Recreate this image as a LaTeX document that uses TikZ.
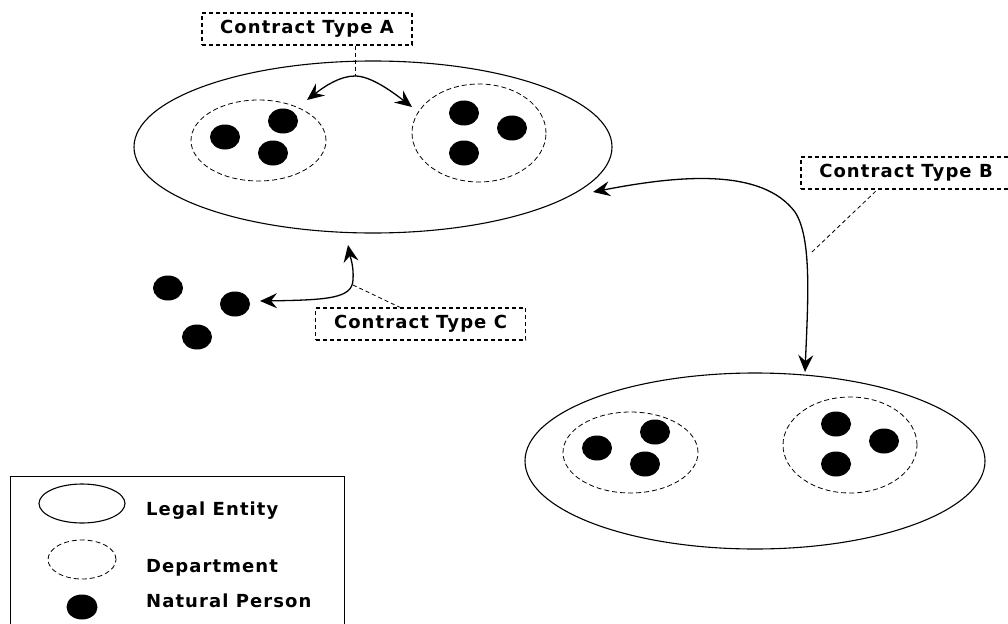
\documentclass[tikz,border=0pt]{standalone}
\usepackage{fontspec}
\setmainfont{DejaVu Sans}
\newfontfamily\lblfont[LetterSpace=6]{DejaVu Sans}
\usetikzlibrary{shapes.geometric,arrows.meta,calc}
\begin{document}
\begin{tikzpicture}[x=1pt,y=-1pt,
  entity/.style={draw, ellipse, line width=1.1pt, inner sep=0pt},
  dept/.style={draw, ellipse, line width=0.8pt, dash pattern=on 5pt off 3pt, inner sep=0pt},
  person/.style={ellipse, fill=black, minimum width=30pt, minimum height=25pt, inner sep=0pt},
  ctbox/.style={draw, line width=1.4pt, dash pattern=on 4pt off 3pt, minimum width=210pt, minimum height=32pt, inner sep=0pt, font=\lblfont\bfseries\fontsize{18}{21}\selectfont},
  legtext/.style={anchor=base west, inner sep=0pt, font=\lblfont\bfseries\fontsize{18}{21}\selectfont},
  conn/.style={line width=1.3pt, {Stealth[length=17pt,width=15pt,inset=6pt]}-{Stealth[length=17pt,width=15pt,inset=6pt]}},
  leader/.style={line width=0.8pt, dash pattern=on 4pt off 3pt}]
\useasboundingbox (0,0) rectangle (1008,623);
\clip (0,0) rectangle (1008,623);

% top legal entity
\node[entity, minimum width=478pt, minimum height=172pt] (E1) at (373,147) {};
\node[dept, minimum width=135pt, minimum height=81pt] (D1) at (258.5,140.5) {};
\node[dept, minimum width=134pt, minimum height=98pt] (D2) at (479,133) {};
\node[person] (p1) at (225,137) {};
\node[person] (p2) at (283,121) {};
\node[person] (p3) at (273,153) {};
\node[person] (p4) at (464,113) {};
\node[person] (p5) at (512,128) {};
\node[person] (p6) at (464,153) {};

% bottom legal entity
\node[entity, minimum width=460pt, minimum height=176pt] (E2) at (755,461) {};
\node[dept, minimum width=135pt, minimum height=81pt] (D3) at (630.5,452.5) {};
\node[dept, minimum width=134pt, minimum height=96pt] (D4) at (850,445) {};
\node[person] (p7) at (597,448) {};
\node[person] (p8) at (655,432) {};
\node[person] (p9) at (645,464) {};
\node[person] (p10) at (836,424) {};
\node[person] (p11) at (884,441) {};
\node[person] (p12) at (836,464) {};

% free persons
\node[person] (p13) at (168,288) {};
\node[person] (p14) at (235,304) {};
\node[person] (p15) at (197,337) {};

% contract boxes
\node[ctbox] (cA) at (307,29) {Contract Type A};
\node[ctbox] (cB) at (906,173) {Contract Type B};
\node[ctbox] (cC) at (420.5,324) {Contract Type C};

% Contract A
\coordinate (jA) at (355,76);
\coordinate (aL) at (307,100);
\coordinate (aR) at (412,107);
\draw[leader] (cA.south -| jA) -- (jA);
\draw[conn] (aL) .. controls (325,86) and (340,76) .. (jA) .. controls (370,76) and (390,90) .. (aR);

% Contract B
\coordinate (bT) at (593,192);
\coordinate (bB) at (805,372);
\coordinate (jB) at (812,252);
\draw[conn] (bT) .. controls (680,175) and (762,168) .. (795,212) .. controls (812,238) and (808,300) .. (bB);
\draw[leader] (jB) -- ($(cB.south west)+(77,0)$);

% Contract C
\coordinate (cL) at (260,301);
\coordinate (cT) at (348,245);
\coordinate (jC) at (353,285);
\draw[conn] (cL) .. controls (330,300) and (352,298) .. (353,280) .. controls (354,266) and (350,256) .. (cT);
\draw[leader] (jC) -- ($(cC.north west)+(85,0)$);

% legend
\node[draw, line width=1pt, minimum width=334pt, minimum height=160pt, anchor=north west, inner sep=0pt] (leg) at (10,476) {};
\node[entity, minimum width=86pt, minimum height=39pt] (lE) at (82,503.5) {};
\node[dept, minimum width=68pt, minimum height=39pt] (lD) at (82,559.5) {};
\node[person, minimum width=31pt] (lP) at (82,607) {};
\node[legtext] (tE) at (146,515) {Legal Entity};
\node[legtext] (tD) at (146,572) {Department};
\node[legtext] (tP) at (146,607) {Natural Person};
\end{tikzpicture}
\end{document}
